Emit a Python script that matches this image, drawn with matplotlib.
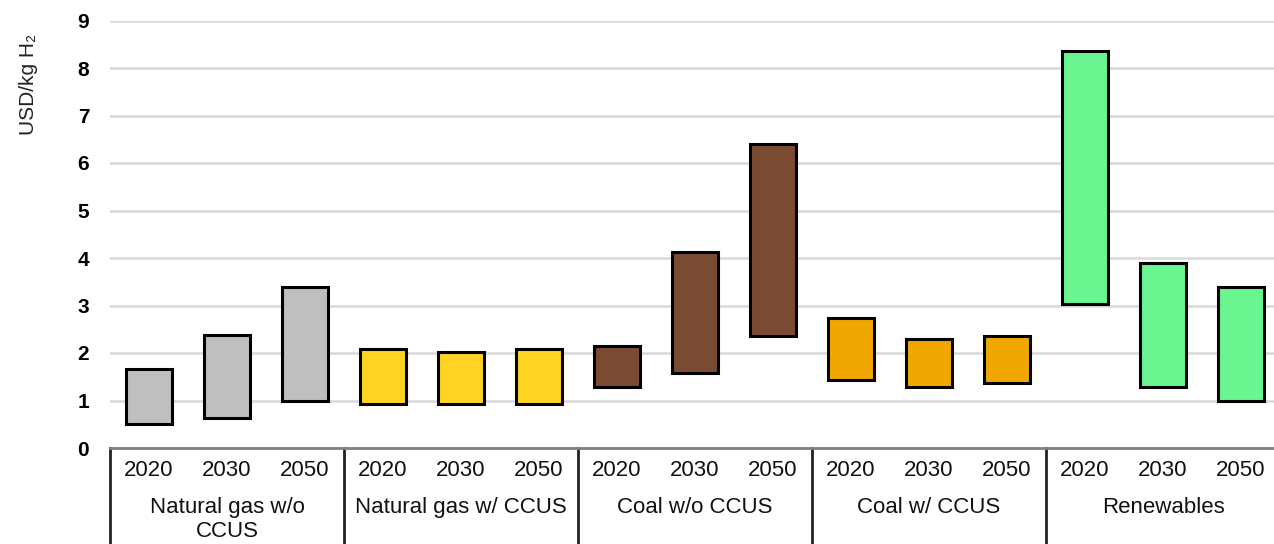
import numpy as np
import matplotlib
matplotlib.use("Agg")
import matplotlib.pyplot as plt
import matplotlib.transforms as mtransforms

plt.rcParams['font.family'] = ['Liberation Sans', 'DejaVu Sans']

grupos = ["Natural gas w/o\nCCUS", "Natural gas w/ CCUS", "Coal w/o CCUS", "Coal w/ CCUS", "Renewables"]
anios = ["2020", "2030", "2050"]
colores = ["#bfbfbf", "#ffd324", "#7b4a32", "#f0a800", "#69f590"]

# minimo y maximo de cada barra (USD/kg H2), por grupo y anio
minimos = [
    [0.50, 0.63, 0.99],
    [0.92, 0.92, 0.92],
    [1.28, 1.58, 2.35],
    [1.43, 1.28, 1.37],
    [3.03, 1.28, 1.00],
]
maximos = [
    [1.66, 2.37, 3.38],
    [2.08, 2.02, 2.08],
    [2.14, 4.12, 6.41],
    [2.73, 2.29, 2.35],
    [8.36, 3.89, 3.38],
]

fig = plt.figure(figsize=(12.74, 5.44), dpi=100)
ax = fig.add_axes([110/1274, 1 - 448/544, 1170/1274, 427.5/544])

x = 0
posiciones = []
etiquetas = []
for g in range(len(grupos)):
    for a in range(len(anios)):
        bajo = minimos[g][a]
        alto = maximos[g][a]
        ax.bar(x, alto - bajo, bottom=bajo, width=0.59, color=colores[g],
               edgecolor="black", linewidth=2.2, zorder=3)
        posiciones.append(x)
        etiquetas.append(anios[a])
        x += 1

ax.set_xlim(-0.5, 14.5)
ax.set_ylim(0, 9)
ax.set_yticks(range(0, 10))
ax.yaxis.grid(True, color="#d9d9d9", linewidth=1.8)
ax.set_axisbelow(True)
for s in ["left", "top", "right"]:
    ax.spines[s].set_visible(False)
ax.spines["bottom"].set_color("#7f7f7f")
ax.spines["bottom"].set_linewidth(2)

ax.tick_params(axis="y", length=0, pad=15, labelsize=15)
for lbl in ax.get_yticklabels():
    lbl.set_fontweight("bold")
ax.set_xticks(posiciones)
ax.set_xticklabels(etiquetas, fontsize=16, color="#111111")
ax.tick_params(axis="x", length=0, pad=9)

trans = mtransforms.blended_transform_factory(ax.transData, ax.transAxes)
for g in range(len(grupos)):
    ax.text(3*g + 1, -0.115, grupos[g], transform=trans, ha="center", va="top",
            fontsize=16, color="#111111", linespacing=1.15, clip_on=False)
for g in range(len(grupos) + 1):
    ax.plot([3*g - 0.5, 3*g - 0.5], [0, -0.3], transform=trans, color="#222222",
            linewidth=2, clip_on=False)

fig.text(28/1274, 1 - 84/544, "USD/kg H₂", rotation=90, ha="center", va="center",
         fontsize=15, color="#222222")

fig.savefig("out.png", dpi=100)
